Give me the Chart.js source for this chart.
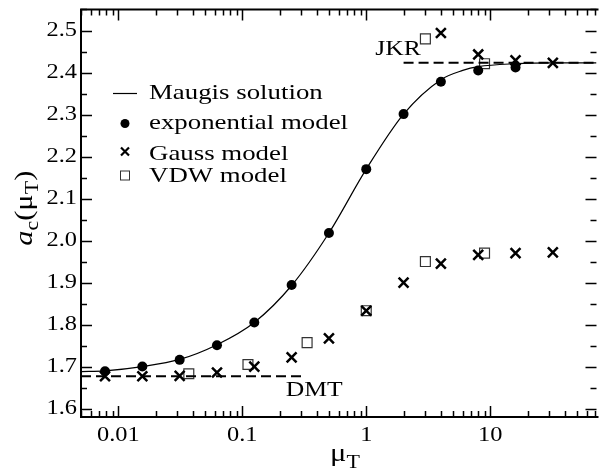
<!DOCTYPE html>
<html>
<head>
<meta charset="utf-8">
<script src="https://cdn.jsdelivr.net/npm/chart.js@4/dist/chart.umd.min.js"></script>
<style>
  body { margin: 0; background: #fff; }
  canvas { display: block; }
</style>
</head>
<body>
<canvas id="grafico" width="606" height="472"></canvas>
<script>
// Dados
var muExp = [0.0078125, 0.015625, 0.03125, 0.0625, 0.125, 0.25, 0.5, 1, 2, 4, 8, 16];
var acExp = [1.689, 1.700, 1.716, 1.751, 1.805, 1.894, 2.018, 2.170, 2.301, 2.378, 2.405, 2.412];

var muGauss = [0.0078125, 0.015625, 0.03125, 0.0625, 0.125, 0.25, 0.5, 1, 2, 4, 8, 16, 32];
var acGauss = [1.677, 1.677, 1.678, 1.686, 1.700, 1.722, 1.767, 1.833, 1.900, 1.945, 1.966, 1.970, 1.972];
var muGaussSup = [4, 8, 16, 32];
var acGaussSup = [2.494, 2.443, 2.429, 2.423];

var muVdw = [1 / 27, 1 / 9, 1 / 3, 1, 3, 9];
var acVdw = [1.683, 1.705, 1.757, 1.833, 1.950, 1.970];
var muVdwSup = [3, 9];
var acVdwSup = [2.480, 2.421];

var muMaugis = [0.005, 0.0078125, 0.015625, 0.03125, 0.0625, 0.125, 0.25, 0.5, 1, 2, 4, 6, 8, 16, 32, 72];
var acMaugis = [1.688, 1.690, 1.700, 1.717, 1.752, 1.805, 1.893, 2.018, 2.170, 2.301, 2.383, 2.405, 2.414, 2.421, 2.423, 2.423];

var muDMT = [0.005, 0.3];
var acDMT = [1.677, 1.677];
var muJKR = [2, 72];
var acJKR = [2.423, 2.423];

// Rótulos dos eixos
var xRotulos = [0.01, 0.1, 1, 10];
var yRotulos = [1.6, 1.7, 1.8, 1.9, 2.0, 2.1, 2.2, 2.3, 2.4, 2.5];
var legendaTextos = ['Maugis solution', 'exponential model', 'Gauss model', 'VDW model'];

function pares(xs, ys) {
  return xs.map(function (x, i) { return { x: x, y: ys[i] }; });
}

var FONTE = '"Liberation Serif", "Times New Roman", serif';
var LARGO = 1.22; // as letras do original são mais largas

// escreve texto esticado na horizontal
function escreve(ctx, s, x, y, alinh, tam, estilo) {
  ctx.save();
  ctx.font = (estilo || '') + ' ' + tam + 'px ' + FONTE;
  ctx.translate(x, y);
  ctx.scale(LARGO, 1);
  ctx.textAlign = alinh;
  ctx.fillText(s, 0, 0);
  ctx.restore();
}

// texto com índices (partes = [texto, tamanho, deslocamento, estilo])
function escreveComposto(ctx, partes, cx, cy) {
  var total = 0;
  partes.forEach(function (p) {
    ctx.font = (p[3] || '') + ' ' + p[1] + 'px ' + FONTE;
    total += ctx.measureText(p[0]).width * LARGO;
  });
  var x = cx - total / 2;
  partes.forEach(function (p) {
    ctx.font = (p[3] || '') + ' ' + p[1] + 'px ' + FONTE;
    var w = ctx.measureText(p[0]).width * LARGO;
    escreve(ctx, p[0], x, cy + p[2], 'left', p[1], p[3]);
    x += w;
  });
}

var desenho = {
  id: 'desenho',
  afterDraw: function (chart) {
    var ctx = chart.ctx, a = chart.chartArea;
    var sx = chart.scales.x, sy = chart.scales.y;
    ctx.save();
    ctx.strokeStyle = '#000';
    ctx.fillStyle = '#000';

    // marcas do eixo y (para dentro)
    ctx.lineWidth = 1.5;
    for (var k = 32; k <= 51; k++) {
      var v = k * 0.05;
      var py = Math.round(sy.getPixelForValue(v)) + 0.5;
      var len = (k % 2 === 0) ? 11 : 6;
      ctx.beginPath();
      ctx.moveTo(a.left, py); ctx.lineTo(a.left + len, py);
      ctx.moveTo(a.right, py); ctx.lineTo(a.right - len, py);
      ctx.stroke();
    }
    // marcas do eixo x (log)
    for (var e = -3; e <= 2; e++) {
      for (var m = 1; m <= 9; m++) {
        var val = m * Math.pow(10, e);
        if (val < sx.min || val > sx.max) continue;
        var px = Math.round(sx.getPixelForValue(val)) + 0.5;
        var l = (m === 1) ? 11 : 6;
        ctx.beginPath();
        ctx.moveTo(px, a.bottom); ctx.lineTo(px, a.bottom - l);
        ctx.moveTo(px, a.top); ctx.lineTo(px, a.top + l);
        ctx.stroke();
      }
    }
    // moldura (o lado direito fica fora do recorte, como no original)
    ctx.lineWidth = 2;
    ctx.beginPath();
    ctx.moveTo(a.right + 2, a.top); ctx.lineTo(a.left, a.top);
    ctx.lineTo(a.left, a.bottom); ctx.lineTo(a.right + 2, a.bottom);
    ctx.stroke();

    // rótulos dos ticks
    ctx.textBaseline = 'middle';
    yRotulos.forEach(function (v) {
      escreve(ctx, v.toFixed(1), a.left - 4, sy.getPixelForValue(v), 'right', 20);
    });
    ctx.textBaseline = 'alphabetic';
    xRotulos.forEach(function (v) {
      escreve(ctx, String(v), sx.getPixelForValue(v), a.bottom + 24, 'center', 20);
    });

    // títulos dos eixos
    escreveComposto(ctx, [['μ', 25, 0], ['T', 18, 7]], 345, 461);
    ctx.save();
    ctx.translate(32, (a.top + a.bottom) / 2 - 5);
    ctx.rotate(-Math.PI / 2);
    escreveComposto(ctx, [['a', 25, 0, 'italic'], ['c', 18, 6], ['(μ', 25, 0], ['T', 18, 6], [')', 25, 0]], 0, 0);
    ctx.restore();

    // anotações DMT e JKR
    escreve(ctx, 'JKR', sx.getPixelForValue(1.18), sy.getPixelForValue(2.442), 'left', 21);
    escreve(ctx, 'DMT', sx.getPixelForValue(0.224), sy.getPixelForValue(1.629), 'left', 21);

    // legenda
    var lx = a.left + 44, tx = a.left + 68;
    var ly = [a.top + 84, a.top + 114, a.top + 142, a.top + 166];
    var bl = [a.top + 89.5, a.top + 119.5, a.top + 150, a.top + 172];
    ctx.lineWidth = 1.2;
    ctx.beginPath(); ctx.moveTo(lx - 12, ly[0]); ctx.lineTo(lx + 12, ly[0]); ctx.stroke();
    ctx.beginPath(); ctx.arc(lx, ly[1], 4.5, 0, Math.PI * 2); ctx.fill();
    ctx.lineWidth = 2.2;
    ctx.beginPath();
    ctx.moveTo(lx - 4, ly[2] - 4); ctx.lineTo(lx + 4, ly[2] + 4);
    ctx.moveTo(lx + 4, ly[2] - 4); ctx.lineTo(lx - 4, ly[2] + 4);
    ctx.stroke();
    ctx.lineWidth = 1;
    ctx.strokeStyle = '#333';
    ctx.strokeRect(lx - 4.5, ly[3] - 4.5, 9, 9);
    legendaTextos.forEach(function (t, i) {
      escreve(ctx, t, tx, bl[i], 'left', 22);
    });
    ctx.restore();
  }
};

var ctx = document.getElementById('grafico').getContext('2d');

var grafico = new Chart(ctx, {
  type: 'scatter',
  data: {
    datasets: [
      { label: 'Maugis solution', data: pares(muMaugis, acMaugis), showLine: true, borderColor: '#000',
        borderWidth: 1.2, pointRadius: 0, cubicInterpolationMode: 'monotone' },
      { label: 'DMT', data: pares(muDMT, acDMT), showLine: true, borderColor: '#000', borderWidth: 2,
        borderDash: [10, 5], pointRadius: 0 },
      { label: 'JKR', data: pares(muJKR, acJKR), showLine: true, borderColor: '#000', borderWidth: 2,
        borderDash: [10, 5], pointRadius: 0 },
      { label: 'exponential model', data: pares(muExp, acExp), pointStyle: 'circle', pointRadius: 5,
        backgroundColor: '#000', borderColor: '#000', borderWidth: 0 },
      { label: 'Gauss model', data: pares(muGauss, acGauss).concat(pares(muGaussSup, acGaussSup)),
        pointStyle: 'crossRot', pointRadius: 7, borderColor: '#000', borderWidth: 2.5 },
      { label: 'VDW model', data: pares(muVdw, acVdw).concat(pares(muVdwSup, acVdwSup)),
        pointStyle: 'rect', pointRadius: 7, backgroundColor: 'rgba(0,0,0,0)', borderColor: '#333', borderWidth: 1.2 }
    ]
  },
  options: {
    responsive: false,
    animation: false,
    layout: { padding: { top: 5, right: 0, left: 0, bottom: 0 } },
    plugins: { legend: { display: false }, tooltip: { enabled: false } },
    scales: {
      x: {
        type: 'logarithmic', min: 0.005, max: 72,
        grid: { display: false, drawTicks: false }, border: { display: false },
        ticks: { display: false },
        afterFit: function (s) { s.height = 55; }
      },
      y: {
        min: 1.58, max: 2.55,
        grid: { display: false, drawTicks: false }, border: { display: false },
        ticks: { display: false },
        afterFit: function (s) { s.width = 81; }
      }
    }
  },
  plugins: [desenho]
});
</script>
</body>
</html>
